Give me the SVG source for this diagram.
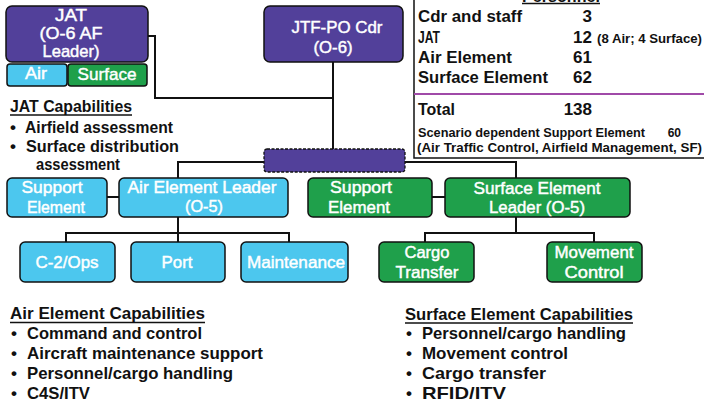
<svg xmlns="http://www.w3.org/2000/svg" width="704" height="406" viewBox="0 0 704 406">
<style>
.pu{fill:#52409a;stroke:#111;stroke-width:1.5}
.lb{fill:#4cc7ee;stroke:#111;stroke-width:1.5}
.gr{fill:#1fa04b;stroke:#111;stroke-width:1.5}
.nt{font-family:"Liberation Sans",Arial,sans-serif;font-size:17px;fill:#fff;stroke:#fff;stroke-width:0.45;text-anchor:middle}
.bt{font-family:"Liberation Sans",Arial,sans-serif;font-weight:bold;font-size:17px;fill:#111}
.tt{font-family:"Liberation Sans",Arial,sans-serif;font-weight:bold;font-size:17px;fill:#111}
.st{font-family:"Liberation Sans",Arial,sans-serif;font-weight:bold;font-size:12px;fill:#111}
.cn{fill:none;stroke:#111;stroke-width:2}
.ul{stroke:#111;stroke-width:1.3}
</style>
<rect width="704" height="406" fill="#fff"/>

<g id="connectors" class="cn">
<polyline points="148,36 155,36 155,98 333,98"/>
<line x1="333" y1="62" x2="333" y2="149"/>
<polyline points="264,162 178,162 178,178"/>
<polyline points="405,162 516,162 516,178"/>
<line x1="107" y1="197" x2="119" y2="197"/>
<line x1="432" y1="197" x2="445" y2="197"/>
<line x1="178" y1="217" x2="178" y2="242"/>
<polyline points="66,242 66,233 289,233 289,242"/>
<line x1="516" y1="217" x2="516" y2="233"/>
<polyline points="425,242 425,233 594,233 594,242"/>
</g>

<g id="jat">
<rect class="pu" x="6" y="6" width="142" height="56" rx="6"/>
<text class="nt" x="71" y="21" font-size="16" textLength="32" lengthAdjust="spacingAndGlyphs">JAT</text>
<text class="nt" x="71" y="39" font-size="16" textLength="63" lengthAdjust="spacingAndGlyphs">(O-6 AF</text>
<text class="nt" x="71" y="57" font-size="16" textLength="57" lengthAdjust="spacingAndGlyphs">Leader)</text>
</g>
<g id="jat-air">
<rect class="lb" x="7" y="64" width="60" height="22" rx="3"/>
<text class="nt" x="36" y="79" textLength="22" lengthAdjust="spacingAndGlyphs">Air</text>
</g>
<g id="jat-surface">
<rect class="gr" x="68" y="64" width="79" height="22" rx="3"/>
<text class="nt" x="107" y="80" textLength="59" lengthAdjust="spacingAndGlyphs">Surface</text>
</g>

<g id="jtf">
<rect class="pu" x="264" y="6" width="139" height="56" rx="6"/>
<text class="nt" x="337" y="33" textLength="91" lengthAdjust="spacingAndGlyphs">JTF-PO Cdr</text>
<text class="nt" x="333" y="53" textLength="39" lengthAdjust="spacingAndGlyphs">(O-6)</text>
</g>

<g id="bar">
<rect x="264" y="149" width="141" height="23" rx="3" fill="#52409a" stroke="#111" stroke-width="1.3" stroke-dasharray="3 1.5"/>
</g>

<g id="air-support">
<rect class="lb" x="7" y="178" width="100" height="39" rx="5"/>
<text class="nt" x="52" y="193" textLength="61" lengthAdjust="spacingAndGlyphs">Support</text>
<text class="nt" x="56" y="213" textLength="58" lengthAdjust="spacingAndGlyphs">Element</text>
</g>
<g id="air-leader">
<rect class="lb" x="119" y="178" width="169" height="39" rx="5"/>
<text class="nt" x="202" y="193" textLength="149" lengthAdjust="spacingAndGlyphs">Air Element Leader</text>
<text class="nt" x="204" y="212" textLength="38" lengthAdjust="spacingAndGlyphs">(O-5)</text>
</g>
<g id="c2ops">
<rect class="lb" x="20" y="242" width="95" height="40" rx="5"/>
<text class="nt" x="67" y="268" textLength="63" lengthAdjust="spacingAndGlyphs">C-2/Ops</text>
</g>
<g id="port">
<rect class="lb" x="131" y="242" width="94" height="40" rx="5"/>
<text class="nt" x="177" y="268" textLength="31" lengthAdjust="spacingAndGlyphs">Port</text>
</g>
<g id="maintenance">
<rect class="lb" x="241" y="242" width="107" height="40" rx="5"/>
<text class="nt" x="296" y="268" textLength="98" lengthAdjust="spacingAndGlyphs">Maintenance</text>
</g>

<g id="surface-support">
<rect class="gr" x="308" y="178" width="124" height="39" rx="5"/>
<text class="nt" x="361" y="193" textLength="62" lengthAdjust="spacingAndGlyphs">Support</text>
<text class="nt" x="359" y="213" textLength="62" lengthAdjust="spacingAndGlyphs">Element</text>
</g>
<g id="surface-leader">
<rect class="gr" x="445" y="178" width="185" height="39" rx="5"/>
<text class="nt" x="537" y="194" textLength="127" lengthAdjust="spacingAndGlyphs">Surface Element</text>
<text class="nt" x="537" y="213" textLength="96" lengthAdjust="spacingAndGlyphs">Leader (O-5)</text>
</g>
<g id="cargo">
<rect class="gr" x="379" y="242" width="95" height="40" rx="5"/>
<text class="nt" x="427" y="258" textLength="45" lengthAdjust="spacingAndGlyphs">Cargo</text>
<text class="nt" x="427" y="278" textLength="63" lengthAdjust="spacingAndGlyphs">Transfer</text>
</g>
<g id="movement">
<rect class="gr" x="547" y="242" width="95" height="40" rx="5"/>
<text class="nt" x="594" y="258" textLength="79" lengthAdjust="spacingAndGlyphs">Movement</text>
<text class="nt" x="594" y="278" textLength="59" lengthAdjust="spacingAndGlyphs">Control</text>
</g>

<g id="personnel-table">
<polyline points="414,0 414,158 704,158" fill="none" stroke="#111" stroke-width="1.5"/>
<line x1="414" y1="94" x2="704" y2="94" stroke="#a04aa8" stroke-width="2"/>
<text class="tt" x="522" y="1.5" textLength="78" lengthAdjust="spacingAndGlyphs">Personnel</text>
<line class="ul" x1="522" y1="3.5" x2="600" y2="3.5"/>
<text class="tt" x="418" y="22" textLength="104" lengthAdjust="spacingAndGlyphs">Cdr and staff</text>
<text class="tt" x="592" y="22" text-anchor="end">3</text>
<text class="tt" x="418" y="43" textLength="22" lengthAdjust="spacingAndGlyphs">JAT</text>
<text class="tt" x="592" y="43" text-anchor="end">12</text>
<text class="st" x="597" y="43" font-size="11" textLength="105" lengthAdjust="spacingAndGlyphs">(8 Air; 4 Surface)</text>
<text class="tt" x="418" y="63" textLength="94" lengthAdjust="spacingAndGlyphs">Air Element</text>
<text class="tt" x="592" y="63" text-anchor="end">61</text>
<text class="tt" x="418" y="83" textLength="130" lengthAdjust="spacingAndGlyphs">Surface Element</text>
<text class="tt" x="592" y="83" text-anchor="end">62</text>
<text class="tt" x="418" y="115" textLength="37" lengthAdjust="spacingAndGlyphs">Total</text>
<text class="tt" x="592" y="115" text-anchor="end">138</text>
<text class="st" x="418" y="137" textLength="227" lengthAdjust="spacingAndGlyphs">Scenario dependent Support Element</text>
<text class="st" x="681" y="137" text-anchor="end">60</text>
<text class="st" x="417" y="152" textLength="285" lengthAdjust="spacingAndGlyphs">(Air Traffic Control, Airfield Management, SF)</text>
</g>

<g id="jat-capabilities">
<text class="bt" x="10" y="112" textLength="122" lengthAdjust="spacingAndGlyphs">JAT Capabilities</text>
<line class="ul" x1="10" y1="115" x2="132" y2="115"/>
<text class="bt" x="10" y="133">•</text>
<text class="bt" x="25" y="133" textLength="148" lengthAdjust="spacingAndGlyphs">Airfield assessment</text>
<text class="bt" x="10" y="152">•</text>
<text class="bt" x="26" y="152" textLength="153" lengthAdjust="spacingAndGlyphs">Surface distribution</text>
<text class="bt" x="36" y="170" font-size="15.5" textLength="84" lengthAdjust="spacingAndGlyphs">assessment</text>
</g>

<g id="air-capabilities">
<text class="bt" x="10" y="319" textLength="195" lengthAdjust="spacingAndGlyphs">Air Element Capabilities</text>
<line class="ul" x1="10" y1="322.5" x2="205" y2="322.5"/>
<text class="bt" x="11" y="339">•</text>
<text class="bt" x="27" y="339" textLength="175" lengthAdjust="spacingAndGlyphs">Command and control</text>
<text class="bt" x="11" y="359">•</text>
<text class="bt" x="27" y="359" textLength="236" lengthAdjust="spacingAndGlyphs">Aircraft maintenance support</text>
<text class="bt" x="11" y="379">•</text>
<text class="bt" x="27" y="379" textLength="206" lengthAdjust="spacingAndGlyphs">Personnel/cargo handling</text>
<text class="bt" x="11" y="399">•</text>
<text class="bt" x="27" y="399" textLength="63" lengthAdjust="spacingAndGlyphs">C4S/ITV</text>
</g>

<g id="surface-capabilities">
<text class="bt" x="405" y="320" textLength="228" lengthAdjust="spacingAndGlyphs">Surface Element Capabilities</text>
<line class="ul" x1="405" y1="323" x2="633" y2="323"/>
<text class="bt" x="406" y="339">•</text>
<text class="bt" x="422" y="339" textLength="204" lengthAdjust="spacingAndGlyphs">Personnel/cargo handling</text>
<text class="bt" x="406" y="359">•</text>
<text class="bt" x="422" y="359" textLength="146" lengthAdjust="spacingAndGlyphs">Movement control</text>
<text class="bt" x="406" y="379">•</text>
<text class="bt" x="422" y="379" textLength="124" lengthAdjust="spacingAndGlyphs">Cargo transfer</text>
<text class="bt" x="406" y="399">•</text>
<text class="bt" x="422" y="399" textLength="84" lengthAdjust="spacingAndGlyphs">RFID/ITV</text>
</g>
</svg>
